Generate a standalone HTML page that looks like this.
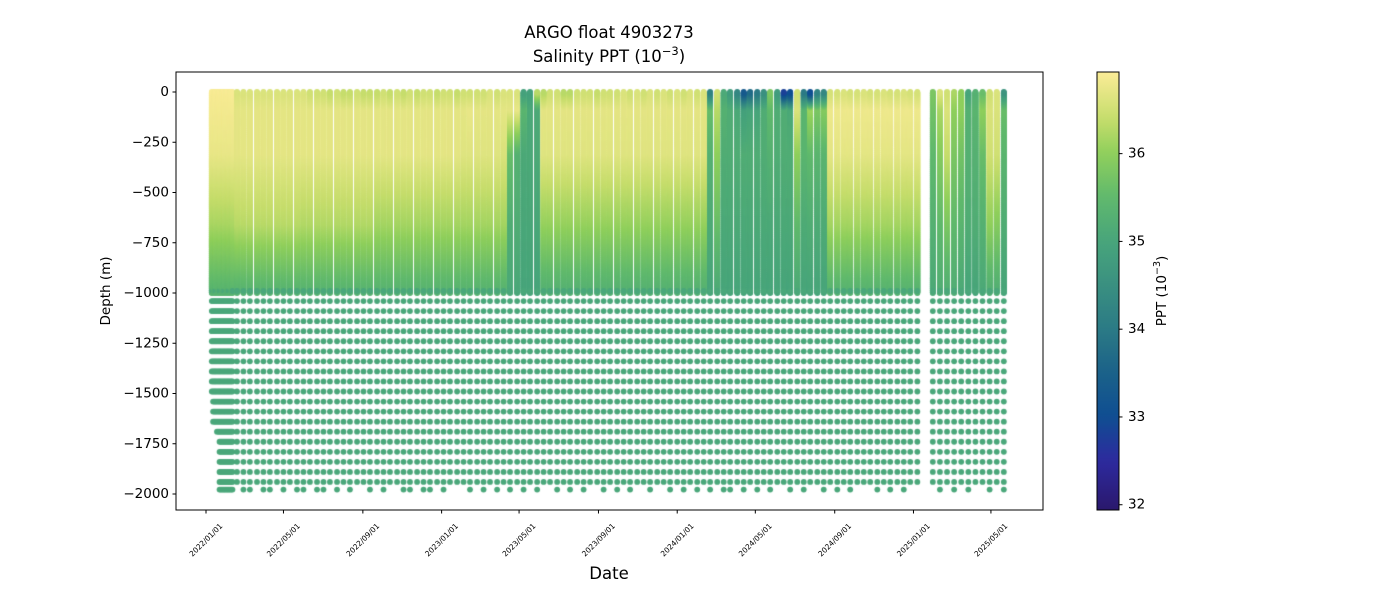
<!DOCTYPE html>
<html><head><meta charset="utf-8"><style>
body{margin:0;background:#fff;width:1400px;height:600px;overflow:hidden;position:relative;font-family:"DejaVu Sans","Liberation Sans",sans-serif}
canvas,svg{position:absolute;left:0;top:0}
</style></head><body>
<canvas id="plot" width="1400" height="600"></canvas>
<svg id="ax" width="1400" height="600"></svg>
<script>
// ---- data ----
const profileDays = [9,11,13,15,17,19,21,23,25,27,29,31,33,35,37,39,41,
48,58,68,79,89,99,110,120,130,141,151,161,172,182,192,203,213,223,234,244,254,265,275,285,296,306,316,327,337,347,358,368,378,389,399,409,420,430,440,451,461,471,482,492,502,513,523,533,544,554,564,575,585,595,606,616,626,637,647,657,668,678,688,699,709,719,730,740,750,761,771,781,792,802,812,823,833,843,854,864,874,885,895,905,916,926,936,947,957,967,978,988,998,1009,1019,1029,1040,1050,1060,1071,1081,1091,1102,
1126,1137,1148,1159,1170,1181,1192,1203,1214,1225,1236];
const levelDepths = [0,80,300,650,1000];
const sal0 = [36.9,36.9,36.88,36.9,36.9,36.88,36.9,36.9,36.88,36.9,36.9,36.88,36.9,36.9,36.88,36.9,36.9,
36.6,36.6,36.6,36.6,36.6,36.6,36.6,36.6,36.6,36.6,36.6,36.5,36.5,36.5,36.4,36.5,36.4,36.4,36.5,36.4,36.4,36.4,36.5,36.4,36.5,36.4,36.5,36.4,36.5,36.5,36.4,36.5,36.5,36.4,36.5,36.5,36.5,36.5,36.6,36.5,36.6,36.6,36.6,34.9,34.9,
36.3,36.3,36.5,36.5,36.3,36.3,36.5,36.5,36.5,36.4,36.5,36.5,36.5,36.6,36.5,36.6,36.5,36.6,36.5,36.6,36.5,36.6,36.5,36.6,36.5,36.6,
34.2,36.5,35.1,34.8,34.3,33.3,33.7,34.0,34.5,35.8,34.8,32.8,33.0,36.5,34.0,33.0,34.2,34.3,
36.55,36.55,36.6,36.55,36.55,36.6,36.55,36.55,36.6,36.55,36.55,36.6,36.55,36.55,
35.8,36.6,36.5,36.2,36.0,35.0,35.3,35.6,36.5,36.6,34.6];
const sal80 = [36.85,36.85,36.85,36.85,36.85,36.85,36.85,36.85,36.85,36.85,36.85,36.85,36.85,36.85,36.85,36.85,36.85,
36.7,36.7,36.7,36.7,36.7,36.7,36.7,36.7,36.7,36.7,36.7,36.7,36.7,36.7,36.7,36.7,36.7,36.7,36.7,36.7,36.7,36.7,36.7,36.7,36.7,36.7,36.7,36.7,36.7,36.7,36.7,36.7,36.7,36.7,36.7,36.75,36.7,36.7,36.7,36.7,36.7,36.7,36.75,35.4,35.1,
35.1,36.7,36.7,36.7,36.7,36.7,36.7,36.7,36.7,36.7,36.7,36.7,36.7,36.7,36.7,36.7,36.7,36.7,36.7,36.7,36.7,36.7,36.7,36.7,36.7,36.7,
35.6,36.3,35.3,35.2,35.1,34.9,35.0,35.0,35.2,35.5,35.2,35.2,35.1,36.6,35.4,36.1,35.8,35.9,
36.8,36.8,36.8,36.8,36.8,36.8,36.8,36.8,36.8,36.8,36.8,36.8,36.8,36.8,
35.7,36.2,36.6,36.0,36.0,35.3,35.4,36.0,36.6,36.6,35.6];
const sal300 = [36.75,36.75,36.75,36.75,36.75,36.75,36.75,36.75,36.75,36.75,36.75,36.75,36.75,36.75,36.75,36.75,36.75,
36.7,36.7,36.7,36.7,36.7,36.7,36.7,36.7,36.7,36.7,36.7,36.7,36.7,36.7,36.7,36.7,36.7,36.7,36.7,36.7,36.7,36.7,36.7,36.7,36.7,36.7,36.7,36.7,36.7,36.7,36.7,36.7,36.7,36.7,36.65,36.65,36.65,36.65,36.65,36.65,36.6,35.6,35.3,35.1,35.1,
35.1,36.65,36.65,36.65,36.65,36.65,36.65,36.65,36.65,36.65,36.65,36.65,36.65,36.65,36.65,36.65,36.65,36.65,36.65,36.65,36.65,36.65,36.65,36.65,36.65,36.65,
35.3,36.0,35.2,35.2,35.2,35.2,35.2,35.2,35.2,35.3,35.2,35.2,35.2,36.0,35.4,35.5,35.4,35.4,
36.7,36.7,36.7,36.7,36.7,36.7,36.7,36.7,36.7,36.7,36.7,36.7,36.7,36.7,
35.5,35.9,36.4,35.8,35.7,35.3,35.3,35.6,36.5,36.5,35.4];
const sal650 = [36.2,36.2,36.2,36.2,36.2,36.2,36.2,36.2,36.2,36.2,36.2,36.2,36.2,36.2,36.2,36.2,36.2,
36.3,36.3,36.3,36.3,36.3,36.3,36.3,36.3,36.3,36.3,36.25,36.25,36.25,36.25,36.25,36.25,36.25,36.25,36.25,36.25,36.25,36.15,36.15,36.15,36.15,36.15,36.15,36.15,36.15,36.15,36.15,36.15,36.15,36.15,36.15,36.15,36.15,36.15,36.15,36.15,36.15,35.2,35.2,35.05,35.05,
35.05,36.05,36.05,36.05,36.05,36.05,36.05,36.05,36.05,36.05,36.05,36.05,36.05,36.05,36.05,36.05,36.05,36.05,36.05,36.05,36.05,36.05,36.05,36.05,36.05,36.05,
35.15,35.6,35.1,35.1,35.1,35.1,35.1,35.1,35.1,35.1,35.1,35.1,35.1,35.5,35.15,35.2,35.15,35.15,
36.15,36.15,36.15,36.15,36.15,36.15,36.15,36.15,36.15,36.15,36.15,36.15,36.15,36.15,
35.3,35.5,35.8,35.5,35.4,35.2,35.2,35.3,36.0,35.9,35.2];
const sal1000 = [35.35,35.35,35.35,35.35,35.35,35.35,35.35,35.35,35.35,35.35,35.35,35.35,35.35,35.35,35.35,35.35,35.35,
35.3,35.3,35.3,35.3,35.3,35.3,35.3,35.3,35.3,35.3,35.3,35.3,35.3,35.3,35.3,35.3,35.3,35.3,35.3,35.3,35.3,35.3,35.3,35.3,35.3,35.3,35.3,35.3,35.3,35.3,35.3,35.3,35.3,35.3,35.3,35.3,35.3,35.3,35.3,35.3,35.3,35.1,35.05,35.0,35.0,
35.0,35.25,35.25,35.25,35.25,35.25,35.25,35.25,35.25,35.25,35.25,35.25,35.25,35.25,35.25,35.25,35.25,35.25,35.25,35.25,35.25,35.25,35.25,35.25,35.25,35.25,
35.0,35.1,35.0,35.0,35.0,35.0,35.0,35.0,35.0,35.0,35.0,35.0,35.0,35.1,35.0,35.0,35.0,35.0,
35.3,35.3,35.3,35.3,35.3,35.3,35.3,35.3,35.3,35.3,35.3,35.3,35.3,35.3,
35.1,35.2,35.2,35.2,35.1,35.0,35.0,35.1,35.2,35.2,35.0];
const maxDepth = [1490,1640,1640,1640,1690,1690,1990,1990,1990,1990,1990,1990,1990,1990,1990,1990,1990,
1940,1990,1990,1940,1990,1990,1940,1990,1940,1990,
1990,1940,1990,1990,1940,1990,1940,1990,1940,1940,
1990,1940,1990,1940,1940,1990,1990,1940,1990,1990,
1940,1990,1940,1940,1940,1990,1940,1990,1940,1990,
1940,1990,1940,1990,1940,1990,1940,1940,1990,1940,
1990,1940,1990,1940,1940,1990,1940,1990,1940,1990,
1940,1940,1990,1940,1940,1990,1940,1990,1940,1990,
1940,1990,1940,1990,1990,1940,1990,1940,1990,1940,
1990,1940,1940,1990,1940,1990,1940,1940,1990,1940,
1990,1940,1990,1940,1940,1940,1990,1940,1990,1940,
1990,1940,1940,
1940,1990,1940,1990,1940,1990,1940,1940,1990,1940,1990];
const deepSalinity = 35.05;
const deepLevels = [990,1040,1090,1140,1190,1240,1290,1340,1390,1440,1490,1540,1590,1640,1690,1740,1790,1840,1890,1940,1978];
const yTicks = [0,-250,-500,-750,-1000,-1250,-1500,-1750,-2000];
const xTickLabels = ["2022/01/01","2022/05/01","2022/09/01","2023/01/01","2023/05/01","2023/09/01","2024/01/01","2024/05/01","2024/09/01","2025/01/01","2025/05/01"];
const xTickDays = [0,120,243,365,485,608,730,851,974,1096,1216];
const cbTicks = [32,33,34,35,36];

// ---- scales ----
const AX={l:176,t:72,r:1043,b:510};
const xScale=d=>206+d*0.6455;
const yScale=z=>92+z*0.201; // z = depth (positive down)
const CMIN=31.94,CMAX=36.93;
const cbY=v=>510-(v-CMIN)/(CMAX-CMIN)*438;
const cmapStops=[[31.94,[42,24,108]],[32.5,[45,42,158]],[33,[15,78,146]],[33.5,[27,97,137]],[34,[43,122,133]],[34.5,[58,144,128]],[35,[72,165,123]],[35.5,[96,185,109]],[36,[143,207,92]],[36.4,[198,221,108]],[36.93,[251,236,151]]];
function cmap(v){
  if(v<=cmapStops[0][0])return cmapStops[0][1];
  for(let i=1;i<cmapStops.length;i++){
    if(v<=cmapStops[i][0]){const a=cmapStops[i-1],b=cmapStops[i];const f=(v-a[0])/(b[0]-a[0]);
      return a[1].map((c,k)=>Math.round(c+(b[1][k]-c)*f));}
  }
  return cmapStops[cmapStops.length-1][1];
}
const rgb=c=>`rgb(${c[0]},${c[1]},${c[2]})`;

// ---- draw points ----
const ctx=document.getElementById('plot').getContext('2d');
for(let p=0;p<profileDays.length;p++){
  const x=xScale(profileDays[p]);
  const vals=[sal0[p],sal80[p],sal300[p],sal650[p],sal1000[p]];
  for(let z=1000;z>=0;z-=2){
    let k=0;while(k<levelDepths.length-2&&z>levelDepths[k+1])k++;
    const f=(z-levelDepths[k])/(levelDepths[k+1]-levelDepths[k]);
    const v=vals[k]+(vals[k+1]-vals[k])*f;
    ctx.fillStyle=rgb(cmap(v));
    ctx.beginPath();ctx.arc(x,yScale(z),2.9,0,Math.PI*2);ctx.fill();
  }
  ctx.fillStyle=rgb(cmap(deepSalinity));
  for(const z of deepLevels){
    if(z>maxDepth[p])continue;
    ctx.beginPath();ctx.arc(x,yScale(z),2.9,0,Math.PI*2);ctx.fill();
  }
}

// ---- axes (SVG) ----
const NS='http://www.w3.org/2000/svg';
const svg=document.getElementById('ax');
function mk(tag,attrs,parent){const e=document.createElementNS(NS,tag);for(const k in attrs)e.setAttribute(k,attrs[k]);(parent||svg).appendChild(e);return e;}
const frame=mk('rect',{x:AX.l,y:AX.t,width:AX.r-AX.l,height:AX.b-AX.t,fill:'none',stroke:'#000','stroke-width':1});


const fnt='DejaVu Sans, Liberation Sans, sans-serif';
yTicks.forEach(v=>{
  const y=yScale(-v);
  const g=mk('g',{});
  
  
  mk('line',{x1:AX.l-3.5,x2:AX.l,y1:y,y2:y,stroke:'#000'},g);
  const t=mk('text',{x:AX.l-7,y:y,'text-anchor':'end','dominant-baseline':'central','font-size':'13.5','font-family':fnt},g);
  t.textContent=(v<0?'\u2212':'')+Math.abs(v);
});
xTickDays.forEach((d,i)=>{
  const x=xScale(d);
  const g=mk('g',{});
  
  
  mk('line',{x1:x,x2:x,y1:AX.b,y2:AX.b+3.5,stroke:'#000'},g);
  const t=mk('text',{x:x,y:540,'text-anchor':'middle','dominant-baseline':'central','font-size':'7.5','font-family':fnt,transform:`rotate(-45 ${x} 540)`},g);
  t.textContent=xTickLabels[i];
});
// colorbar
const defs=mk('defs',{});
const grad=mk('linearGradient',{id:'cbg',x1:0,y1:1,x2:0,y2:0},defs);
for(let i=0;i<=50;i++){const v=CMIN+(CMAX-CMIN)*i/50;mk('stop',{offset:i/50,'stop-color':rgb(cmap(v))},grad);}
const cb=mk('rect',{x:1097,y:72,width:22,height:438,fill:'url(#cbg)',stroke:'#000','stroke-width':1});


cbTicks.forEach(v=>{
  const y=cbY(v);
  const g=mk('g',{});
  
  
  mk('line',{x1:1119,x2:1122.5,y1:y,y2:y,stroke:'#000'},g);
  const t=mk('text',{x:1128,y:y,'dominant-baseline':'central','font-size':'13.5','font-family':fnt},g);
  t.textContent=v;
});
</script>
<svg width="1400" height="600" style="pointer-events:none">
<g font-family="DejaVu Sans, Liberation Sans, sans-serif" fill="#000">
<text x="609" y="38" text-anchor="middle" font-size="16.5">ARGO float 4903273</text>
<text x="609" y="62" text-anchor="middle" font-size="16.5">Salinity PPT (10<tspan font-size="11.5" dy="-7">−3</tspan><tspan dy="7">)</tspan></text>
<text x="609" y="579" text-anchor="middle" font-size="16.5">Date</text>
<text transform="translate(110 291) rotate(-90)" text-anchor="middle" font-size="13.5">Depth (m)</text>
<text transform="translate(1166 291) rotate(-90)" text-anchor="middle" font-size="13.5">PPT (10<tspan font-size="9.5" dy="-6">−3</tspan><tspan dy="6">)</tspan></text>
</g>
</svg>
</body></html>
